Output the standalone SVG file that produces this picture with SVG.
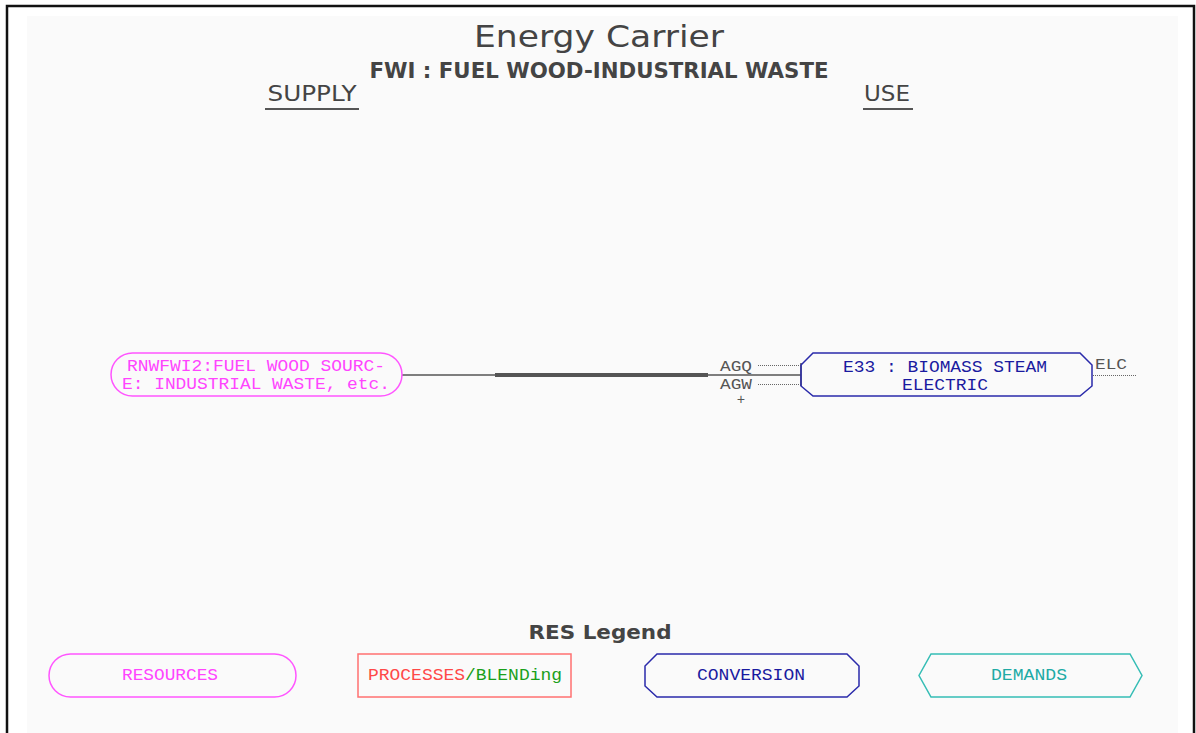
<svg xmlns="http://www.w3.org/2000/svg" width="1196" height="733" viewBox="0 0 1196 733">
<style>
.mono{font-family:"Liberation Mono","DejaVu Sans Mono",monospace;}
.hdr{font-family:"DejaVu Sans","Liberation Sans",sans-serif;fill:#444;}
.res{fill:none;stroke:#ff55ff;stroke-width:1.5;}
.conv{fill:none;stroke:#2a2aaa;stroke-width:1.5;}
.dem{fill:none;stroke:#35bdb5;stroke-width:1.5;}
.proc{fill:none;stroke:#ff7070;stroke-width:1.5;}
.tres{fill:#ff44ff;font-size:16px;}
.tconv{fill:#1a1aa0;font-size:16px;}
.lbl{fill:#555;font-size:14px;}
.dot{stroke:#666;stroke-width:1;stroke-dasharray:1 1;fill:none;}
</style>
<rect x="0" y="0" width="1196" height="733" fill="#ffffff"/>
<rect x="27" y="16" width="1151" height="717" fill="#fafafa"/>
<path d="M7,733 V6 H1194 V733" fill="none" stroke="#111" stroke-width="2.5"/>
<g id="header">
<text class="hdr" x="599" y="47" text-anchor="middle" font-size="31" textLength="250" lengthAdjust="spacingAndGlyphs">Energy Carrier</text>
<text class="hdr" x="599" y="78" text-anchor="middle" font-size="22" font-weight="600" textLength="459" lengthAdjust="spacingAndGlyphs">FWI : FUEL WOOD-INDUSTRIAL WASTE</text>
<text class="hdr" x="312" y="101" text-anchor="middle" font-size="22" textLength="89" lengthAdjust="spacingAndGlyphs">SUPPLY</text>
<line x1="265" y1="109" x2="359" y2="109" stroke="#555" stroke-width="2"/>
<text class="hdr" x="887" y="101" text-anchor="middle" font-size="22" textLength="46" lengthAdjust="spacingAndGlyphs">USE</text>
<line x1="863" y1="109" x2="913" y2="109" stroke="#555" stroke-width="2"/>
</g>
<g id="connectors">
<line x1="402" y1="375" x2="495" y2="375" stroke="#555" stroke-width="1.5"/>
<line x1="495" y1="375" x2="708" y2="375" stroke="#555" stroke-width="4"/>
<line x1="708" y1="375" x2="801" y2="375" stroke="#555" stroke-width="1.5"/>
<line x1="801" y1="363" x2="801" y2="386" stroke="#555" stroke-width="1.5"/>
<line class="dot" x1="758" y1="365.5" x2="801" y2="365.5"/>
<line class="dot" x1="758" y1="384.5" x2="801" y2="384.5"/>
<line class="dot" x1="1093" y1="375.5" x2="1136" y2="375.5"/>
<text class="mono lbl" x="736" y="371" text-anchor="middle" textLength="32" lengthAdjust="spacingAndGlyphs">AGQ</text>
<text class="mono lbl" x="736" y="389" text-anchor="middle" textLength="32" lengthAdjust="spacingAndGlyphs">AGW</text>
<text class="mono lbl" x="741" y="404" text-anchor="middle">+</text>
<text class="mono lbl" x="1111" y="369" text-anchor="middle" textLength="32" lengthAdjust="spacingAndGlyphs">ELC</text>
</g>
<g id="node-RNWFWI2">
<rect class="res" x="111" y="353" width="291" height="43" rx="21.5" ry="21.5"/>
<text class="mono tres" x="256" y="371" text-anchor="middle" textLength="258" lengthAdjust="spacingAndGlyphs">RNWFWI2:FUEL WOOD SOURC-</text>
<text class="mono tres" x="256" y="389" text-anchor="middle" textLength="268" lengthAdjust="spacingAndGlyphs">E: INDUSTRIAL WASTE, etc.</text>
</g>
<g id="node-E33">
<polygon class="conv" points="813,353 1080,353 1092,365 1092,386 1080,396 813,396 801,386 801,365"/>
<text class="mono tconv" x="945" y="372" text-anchor="middle" textLength="204" lengthAdjust="spacingAndGlyphs">E33 : BIOMASS STEAM</text>
<text class="mono tconv" x="945" y="390" text-anchor="middle" textLength="86" lengthAdjust="spacingAndGlyphs">ELECTRIC</text>
</g>
<g id="legend">
<text class="hdr" x="600" y="639" text-anchor="middle" font-size="19" font-weight="bold" textLength="143" lengthAdjust="spacingAndGlyphs">RES Legend</text>
<g id="legend-resources">
<rect class="res" x="49" y="654" width="247" height="43" rx="21.5" ry="21.5"/>
<text class="mono tres" x="170" y="680" text-anchor="middle" textLength="96" lengthAdjust="spacingAndGlyphs">RESOURCES</text>
</g>
<g id="legend-processes">
<rect class="proc" x="358" y="654" width="213" height="43"/>
<text class="mono" x="465" y="680" text-anchor="middle" font-size="16" textLength="194" lengthAdjust="spacingAndGlyphs"><tspan fill="#ff4848">PROCESSES</tspan><tspan fill="#1aa01a">/BLENDing</tspan></text>
</g>
<g id="legend-conversion">
<polygon class="conv" points="657,654 847,654 859,666 859,686 847,697 657,697 645,686 645,666"/>
<text class="mono tconv" x="751" y="680" text-anchor="middle" textLength="108" lengthAdjust="spacingAndGlyphs">CONVERSION</text>
</g>
<g id="legend-demands">
<polygon class="dem" points="931,654 1130,654 1142,675.5 1130,697 931,697 919,675.5"/>
<text class="mono" x="1029" y="680" text-anchor="middle" font-size="16" fill="#20aaa5" textLength="76" lengthAdjust="spacingAndGlyphs">DEMANDS</text>
</g>
</g>
</svg>
